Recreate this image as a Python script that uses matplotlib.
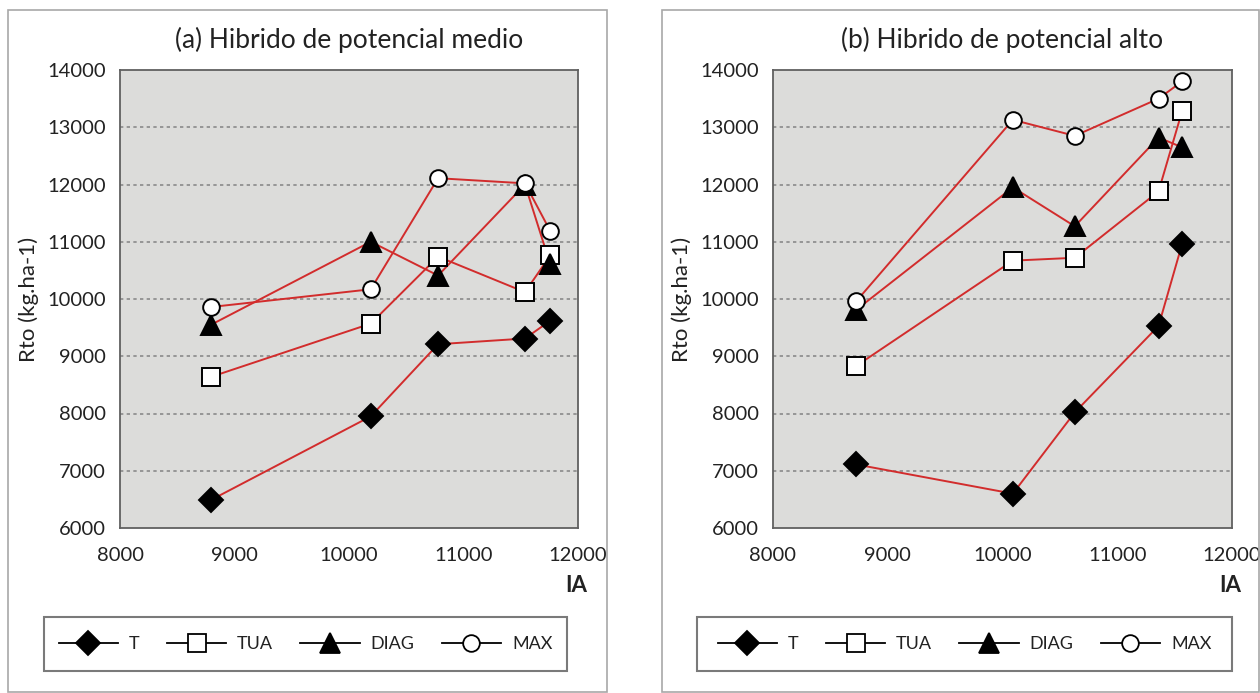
import matplotlib
matplotlib.use("Agg")
import matplotlib.pyplot as plt
from matplotlib.lines import Line2D
from matplotlib.patches import Rectangle

plt.rcParams['font.family'] = ['Lato', 'DejaVu Sans']

series_names = ['T', 'TUA', 'DIAG', 'MAX']

# panel (a) hibrido de potencial medio
ia_a = [8795, 10190, 10778, 11537, 11757]
t_a = [6490, 7950, 9210, 9310, 9620]
tua_a = [8640, 9570, 10740, 10120, 10760]
diag_a = [9550, 11000, 10410, 12000, 10610]
max_a = [9860, 10170, 12110, 12020, 11190]

# panel (b) hibrido de potencial alto
ia_b = [8725, 10090, 10630, 11360, 11565]
t_b = [7110, 6600, 8020, 9530, 10960]
tua_b = [8830, 10670, 10720, 11880, 13280]
diag_b = [9810, 11950, 11270, 12820, 12650]
max_b = [9960, 13130, 12850, 13500, 13800]

titles = ['(a) Hibrido de potencial medio', '(b) Hibrido de potencial alto']

styles = {
    'T': dict(marker='D', ms=12, mfc='black', mec='black'),
    'TUA': dict(marker='s', ms=12.5, mfc='white', mec='black'),
    'DIAG': dict(marker='^', ms=15, mfc='black', mec='black'),
    'MAX': dict(marker='o', ms=12, mfc='white', mec='black'),
}

W, H = 1260, 693
fig = plt.figure(figsize=(W / 100, H / 100), dpi=100)

def fx(px):
    return px / W

def fy(py):
    return 1 - py / H

# outer panel boxes
for x0, x1 in [(8, 607), (662, 1259)]:
    fig.patches.append(Rectangle((fx(x0), fy(692)), fx(x1 - x0), (692 - 10) / H,
                                 transform=fig.transFigure, fill=False,
                                 ec='#a8a8a8', lw=1.2))

frames = [(120, 578), (773, 1232)]
legends = [(44, 567), (697, 1232)]
data = [(ia_a, [t_a, tua_a, diag_a, max_a]), (ia_b, [t_b, tua_b, diag_b, max_b])]

for i in range(2):
    x0, x1 = frames[i]
    ax = fig.add_axes([fx(x0), fy(528), fx(x1 - x0), (528 - 70) / H])
    ax.set_facecolor('#dcdcda')
    ia, ys = data[i]
    for y in ys:
        ax.plot(ia, y, color='#d22c2c', lw=1.4, zorder=2)
    for name, y in zip(series_names, ys):
        ax.plot(ia, y, ls='none', mew=1.4, zorder=3, **styles[name])
    ax.set_xlim(8000, 12000)
    ax.set_ylim(6000, 14000)
    ax.set_xticks(range(8000, 12001, 1000))
    ax.set_yticks(range(6000, 14001, 1000))
    for g in range(7000, 14000, 1000):
        ax.axhline(g, color='#8a8a8a', lw=1.2, ls=(0, (2, 2)), zorder=1)
    ax.tick_params(length=0, labelsize=14.5, colors='#222222')
    ax.tick_params(axis='x', pad=14)
    ax.tick_params(axis='y', pad=10)
    for s in ax.spines.values():
        s.set_color('#606060')
        s.set_linewidth(1.3)
    ax.set_ylabel('Rto (kg.ha-1)', fontsize=16, color='#222222', labelpad=6)
    ax.text(1.02, -0.102, 'IA', transform=ax.transAxes, ha='right', va='top',
            fontsize=16, fontweight='bold', color='#222222')
    ax.set_title(titles[i], fontsize=19, color='#222222', pad=16)

    # legend box
    lx0, lx1 = legends[i]
    fig.patches.append(Rectangle((fx(lx0), fy(671)), fx(lx1 - lx0), (671 - 617) / H,
                                 transform=fig.transFigure, fill=False,
                                 ec='#7a7a7a', lw=1.5))
    handles = [Line2D([], [], color='black', lw=1.3, mew=1.3, **styles[n]) for n in series_names]
    fig.legend(handles, series_names, loc='center',
               bbox_to_anchor=(fx((lx0 + lx1) / 2), fy(644)), ncol=4, frameon=False,
               fontsize=13, handlelength=3.3, columnspacing=1.5, handletextpad=0.6,
               labelcolor='#222222')

fig.savefig('out.png', dpi=100)
